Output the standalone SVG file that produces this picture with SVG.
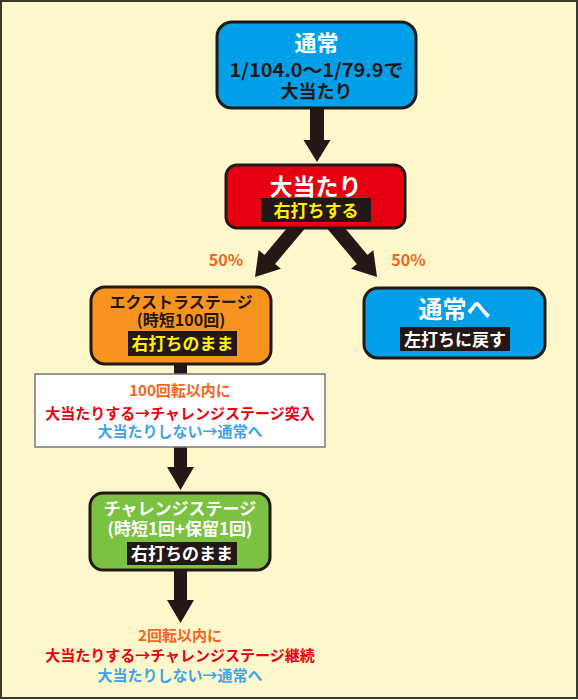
<svg xmlns="http://www.w3.org/2000/svg" width="578" height="700" viewBox="0 0 578 700">
<style>
text{font-family:"Noto Sans CJK JP","Noto Sans",sans-serif;font-weight:bold;text-anchor:middle}
.box{stroke:#231815;stroke-width:3}
.lab{fill:#231815}
.arr{fill:#231815}
.w{fill:#ffffff}
.y{fill:#fff100}
.k{fill:#231815}
.o{fill:#f26522}
.r{fill:#e60012}
.b{fill:#3fa3e6}
</style>
<defs>
<path id="diag" d="M-7,-70 L7,-70 L7,-23 L14.5,-23 L0,0 L-14.5,-23 L-7,-23 Z"/>
</defs>
<rect x="1" y="1" width="576" height="697" fill="#fcf8cc" stroke="#3a3a32" stroke-width="2"/>
<g id="connectors">
<polygon class="arr" points="310,106 324,106 324,140 330.5,140 317,162 303.5,140 310,140"/>
<use href="#diag" class="arr" transform="translate(255,277) rotate(40)"/>
<use href="#diag" class="arr" transform="translate(377,277) rotate(-40)"/>
<polygon class="arr" points="174,362 187,362 187,467 194,467 180.5,490 167,467 174,467"/>
<polygon class="arr" points="174,568 187,568 187,600 194,600 180.5,623 167,600 174,600"/>
<text class="o" x="226" y="266" font-size="16">50%</text>
<text class="o" x="408.5" y="266" font-size="16">50%</text>
</g>
<g id="normal">
<rect class="box" x="217" y="22" width="199" height="86" rx="15" fill="#009fe8"/>
<text class="w" x="316.5" y="51" font-size="22">通常</text>
<text class="k" x="316.5" y="77" font-size="18.5" textLength="174" lengthAdjust="spacingAndGlyphs">1/104.0～1/79.9で</text>
<text class="k" x="316.5" y="97.5" font-size="18">大当たり</text>
</g>
<g id="jackpot">
<rect class="box" x="226" y="165" width="179" height="63" rx="11" fill="#e60012"/>
<text class="w" x="315.5" y="195" font-size="23">大当たり</text>
<rect class="lab" x="261" y="198" width="110" height="24"/>
<text class="y" x="316" y="216.5" font-size="17">右打ちする</text>
</g>
<g id="extra">
<rect class="box" x="91" y="287" width="180" height="77" rx="14" fill="#f7931e"/>
<text class="k" x="181" y="307.5" font-size="16">エクストラステージ</text>
<text class="k" x="181" y="326" font-size="16">(時短100回)</text>
<rect class="lab" x="128" y="331" width="109" height="25"/>
<text class="y" x="182.5" y="350" font-size="17">右打ちのまま</text>
</g>
<g id="tonormal">
<rect class="box" x="364" y="288" width="181" height="70" rx="14" fill="#009fe8"/>
<text class="w" x="454.5" y="317.5" font-size="24">通常へ</text>
<rect class="lab" x="400" y="327" width="110" height="24"/>
<text class="w" x="455" y="345.5" font-size="17">左打ちに戻す</text>
</g>
<g id="note1">
<rect x="35" y="374" width="290" height="73" fill="#ffffff" stroke="#777777" stroke-width="1.5"/>
<text class="o" x="180" y="395.5" font-size="15">100回転以内に</text>
<text class="r" x="180" y="418.5" font-size="15">大当たりする→チャレンジステージ突入</text>
<text class="b" x="180" y="436.5" font-size="15">大当たりしない→通常へ</text>
</g>
<g id="challenge">
<rect class="box" x="90" y="493" width="180" height="77" rx="13" fill="#7cc242"/>
<text class="w" x="180" y="515" font-size="17">チャレンジステージ</text>
<text class="w" x="180" y="535" font-size="17">(時短1回+保留1回)</text>
<rect class="lab" x="127" y="542" width="110" height="23"/>
<text class="w" x="182" y="560" font-size="17">右打ちのまま</text>
</g>
<g id="note2">
<text class="o" x="180" y="641" font-size="15">2回転以内に</text>
<text class="r" x="180" y="661" font-size="15">大当たりする→チャレンジステージ継続</text>
<text class="b" x="180" y="681" font-size="15">大当たりしない→通常へ</text>
</g>
</svg>
